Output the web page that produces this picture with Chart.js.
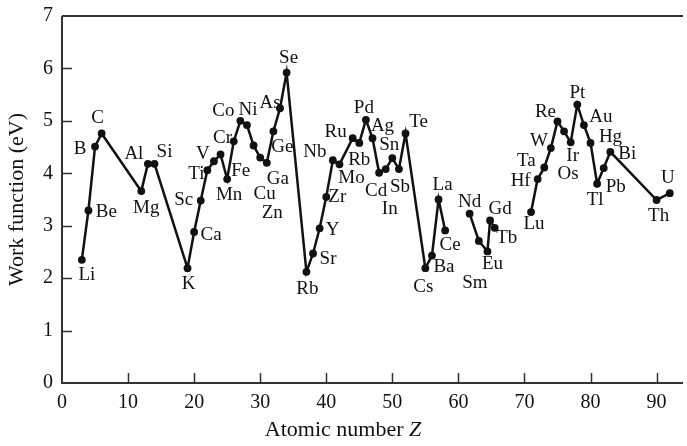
<!DOCTYPE html>
<html>
<head>
<meta charset="utf-8">
<title>Work function vs atomic number</title>
<script src="https://cdn.jsdelivr.net/npm/chart.js@4.4.1/dist/chart.umd.min.js"></script>
<style>
  html, body { margin: 0; padding: 0; background: #fff; }
</style>
</head>
<body>
<canvas id="chart" width="687" height="446"></canvas>
<script>
// element symbols as printed in the figure ("Rb" at Z=45 is how the source labels Rh)
const elements = [
  "Li", "Be", "B", "C", "Mg", "Al", "Si", "K", "Ca", "Sc", "Ti", "V", "Cr", "Mn", "Fe",
  "Co", "Ni", "Cu", "Zn", "Ga", "Ge", "As", "Se", "Rb", "Sr", "Y", "Zr", "Nb", "Mo",
  "Ru", "Rb", "Pd", "Ag", "Cd", "In", "Sn", "Sb", "Te", "Cs", "Ba", "La", "Ce",
  "Nd", "Sm", "Eu", "Gd", "Tb", "Lu", "Hf", "Ta", "W", "Re", "Os", "Ir", "Pt", "Au",
  "Hg", "Tl", "Pb", "Bi", "Th", "U"
];
const atomicNumbers = [
  3, 4, 5, 6, 12, 13, 14, 19, 20, 21, 22, 23, 24, 25, 26,
  27, 28, 29, 30, 31, 32, 33, 34, 37, 38, 39, 40, 41, 42,
  44, 45, 46, 47, 48, 49, 50, 51, 52, 55, 56, 57, 58,
  61.7, 63.1, 64.4, 64.8, 65.5, 71, 72, 73, 74, 75, 76, 77, 78, 79,
  80, 81, 82, 83, 90, 92
];
const workFunctions = [
  2.35, 3.29, 4.51, 4.76, 3.66, 4.18, 4.18, 2.19, 2.88, 3.48, 4.06, 4.23, 4.36, 3.89, 4.61,
  5.00, 4.92, 4.53, 4.30, 4.20, 4.80, 5.24, 5.92, 2.12, 2.47, 2.95, 3.55, 4.25, 4.17,
  4.67, 4.58, 5.02, 4.67, 4.01, 4.08, 4.29, 4.08, 4.76, 2.19, 2.43, 3.50, 2.91,
  3.23, 2.71, 2.51, 3.10, 2.96, 3.26, 3.89, 4.11, 4.48, 4.99, 4.80, 4.59, 5.31, 4.92,
  4.58, 3.80, 4.10, 4.41, 3.49, 3.62
];
// the curve is interrupted after these entries
const gapsAfter = ["Ce", "Tb"];

const xTicks = [0, 10, 20, 30, 40, 50, 60, 70, 80, 90];
const yTicks = [0, 1, 2, 3, 4, 5, 6, 7];

// where each symbol sits relative to its point, in px (same order as elements)
const labelOffsets = [
  [5, 15], [18, 2], [-15, 2], [-4, -15], [5, 17], [-14, -10], [10, -12], [1, 16], [17, 3],
  [-17, -1], [-11, 4], [-11, -7], [2, -16], [2, 16], [7, 30],
  [-17, -10], [1, -15], [11, 49], [12, 55], [11, 16], [9, 16], [-10, -5], [2, -15],
  [1, 17], [15, 6], [13, 2], [11, 0], [-18, -8], [12, 14],
  [-17, -6], [0, 17], [-2, -12], [10, -12], [-3, 18], [4, 40], [-3, -13], [1, 18], [13, -11],
  [-2, 19], [12, 11], [4, -14], [5, 15],
  [0, -12], [-4, 42], [5, 13], [10, -11], [12, 10],
  [3, 12], [-17, 2], [-18, -7], [-12, -7], [-12, -9], [4, 43], [2, 14], [0, -12], [17, -8],
  [20, -6], [-2, 16], [12, 19], [17, 2], [2, 16], [-2, -15]
];

const serif = '"Liberation Serif", "Times New Roman", serif';
const ink = "#111";

let points = [];
elements.forEach((el, i) => {
  points.push({ x: atomicNumbers[i], y: workFunctions[i], label: el, idx: i });
  if (gapsAfter.includes(el)) {
    points.push({ x: (atomicNumbers[i] + atomicNumbers[i + 1]) / 2, y: null });
  }
});

const frame = {
  id: "frame",
  afterDraw(chart) {
    const ctx = chart.ctx;
    const a = chart.chartArea;
    const xs = chart.scales.x, ys = chart.scales.y;
    ctx.save();
    ctx.strokeStyle = "#333";
    ctx.lineWidth = 2;
    ctx.beginPath();
    ctx.moveTo(a.left, a.top);
    ctx.lineTo(a.right, a.top);
    ctx.moveTo(a.left, a.top);
    ctx.lineTo(a.left, a.bottom);
    ctx.lineTo(a.right, a.bottom);
    ctx.stroke();

    ctx.lineWidth = 1.5;
    ctx.beginPath();
    xTicks.forEach(v => {
      if (v === 0) return;
      const px = Math.round(xs.getPixelForValue(v)) + 0.5;
      ctx.moveTo(px, a.bottom);
      ctx.lineTo(px, a.bottom - 10);
    });
    yTicks.forEach(v => {
      if (v === 0 || v === 7) return;
      const py = Math.round(ys.getPixelForValue(v)) + 0.5;
      ctx.moveTo(a.left, py);
      ctx.lineTo(a.left + 10, py);
    });
    ctx.stroke();

    // x title, with an italic Z
    const y = 430;
    const part1 = "Atomic number ";
    ctx.fillStyle = ink;
    ctx.textBaseline = "middle";
    ctx.textAlign = "left";
    ctx.font = "22px " + serif;
    const w1 = ctx.measureText(part1).width;
    ctx.font = "italic 22px " + serif;
    const w2 = ctx.measureText("Z").width;
    const x0 = 343 - (w1 + w2) / 2;
    ctx.font = "22px " + serif;
    ctx.fillText(part1, x0, y);
    ctx.font = "italic 22px " + serif;
    ctx.fillText("Z", x0 + w1, y);
    ctx.restore();
  }
};

const symbols = {
  id: "symbols",
  afterDatasetsDraw(chart) {
    const ctx = chart.ctx;
    const xs = chart.scales.x, ys = chart.scales.y;
    ctx.save();
    ctx.font = "19px " + serif;
    ctx.fillStyle = ink;
    ctx.textAlign = "center";
    ctx.textBaseline = "middle";
    points.forEach(p => {
      if (p.y === null) return;
      const off = labelOffsets[p.idx];
      ctx.fillText(p.label, xs.getPixelForValue(p.x) + off[0], ys.getPixelForValue(p.y) + off[1]);
    });
    ctx.restore();
  }
};

new Chart(document.getElementById("chart"), {
  type: "scatter",
  data: {
    datasets: [{
      data: points,
      showLine: true,
      spanGaps: false,
      borderColor: ink,
      borderWidth: 2.5,
      pointRadius: 3.9,
      pointBackgroundColor: ink,
      pointBorderColor: ink,
      pointBorderWidth: 0
    }]
  },
  options: {
    responsive: false,
    animation: false,
    layout: { padding: { top: 16, right: 0, left: 0, bottom: 0 } },
    plugins: {
      legend: { display: false },
      tooltip: { enabled: false }
    },
    scales: {
      x: {
        type: "linear",
        min: 0,
        max: 94,
        afterBuildTicks: s => { s.ticks = xTicks.map(v => ({ value: v })); },
        afterFit: s => { s.height = 63; },
        grid: { display: false },
        border: { display: false },
        ticks: {
          color: ink,
          font: { family: serif, size: 20 },
          padding: 0,
          maxRotation: 0,
          autoSkip: false
        }
      },
      y: {
        min: 0,
        max: 7,
        afterBuildTicks: s => { s.ticks = yTicks.map(v => ({ value: v })); },
        afterFit: s => { s.width = 62; },
        grid: { display: false },
        border: { display: false },
        ticks: {
          color: ink,
          font: { family: serif, size: 20 },
          padding: 1
        },
        title: {
          display: true,
          text: "Work function (eV)",
          color: ink,
          font: { family: serif, size: 22 },
          padding: { top: 4, bottom: 0 }
        }
      }
    }
  },
  plugins: [frame, symbols]
});
</script>
</body>
</html>
